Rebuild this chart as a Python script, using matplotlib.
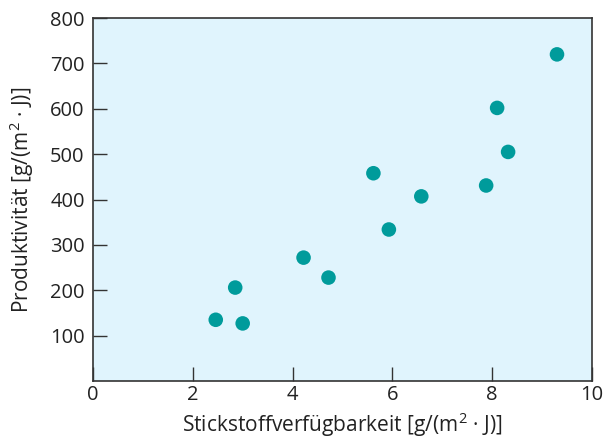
import matplotlib
matplotlib.use("Agg")
import matplotlib.pyplot as plt

nitrogen = [2.46, 2.85, 3.0, 4.22, 4.72, 5.62, 5.93, 6.58, 7.88, 8.1, 8.32, 9.3]
productivity = [135, 206, 127, 272, 228, 458, 334, 407, 431, 602, 505, 720]

x_ticks = [0, 2, 4, 6, 8, 10]
y_ticks = [100, 200, 300, 400, 500, 600, 700, 800]

plt.rcParams['font.family'] = ['Open Sans', 'DejaVu Sans']
plt.rcParams['mathtext.fontset'] = 'custom'
plt.rcParams['mathtext.rm'] = 'Open Sans'
plt.rcParams['mathtext.it'] = 'Open Sans'
plt.rcParams['mathtext.default'] = 'regular'

fig = plt.figure(figsize=(6.04, 4.41), dpi=100)
ax = fig.add_axes([0.154, 0.136, 0.826, 0.823])
ax.set_facecolor('#E0F4FD')
ax.scatter(nitrogen, productivity, s=110, color='#009B9B', edgecolors='none', zorder=3)
ax.set_xlim(0, 10)
ax.set_ylim(0, 800)
ax.set_xticks(x_ticks)
ax.set_yticks(y_ticks)
ax.tick_params(direction='in', length=10, width=1, labelsize=14.5, color='#333333', labelcolor='#222222')
ax.tick_params(axis='x', pad=3)
ax.tick_params(axis='y', pad=6)
for s in ax.spines.values():
    s.set_color('#333333')
    s.set_linewidth(1.2)
ax.set_xlabel('Stickstoffverfügbarkeit [g/(m$^2$ · J)]', fontsize=15, color='#222222')
ax.set_ylabel('Produktivität [g/(m$^2$ · J)]', fontsize=15, color='#222222')
ax.xaxis.set_label_coords(0.5, -0.08)
ax.yaxis.set_label_coords(-0.115, 0.5)
fig.savefig('out.png', dpi=100)
